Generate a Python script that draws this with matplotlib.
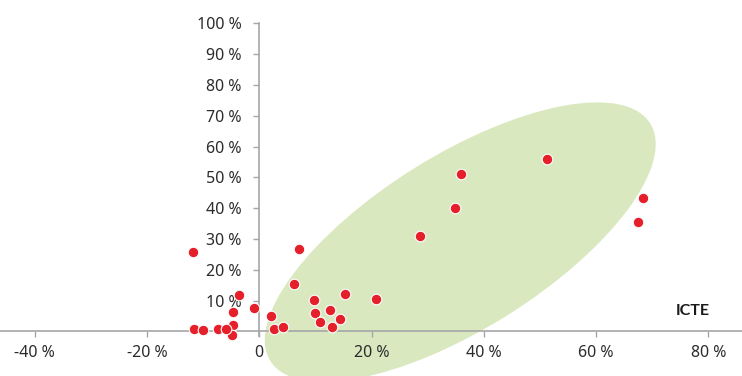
import matplotlib.pyplot as plt
import matplotlib.transforms as mtransforms
from matplotlib.patches import Ellipse

# scatter values, in percent
x_vals = [-11.9, 7.1, 6.2, -3.7, -4.6, -0.9, 2.0, -4.6, -4.9, -11.6,
          -10.1, -7.4, -5.9, 2.7, 4.2, 9.7, 15.3, 10.0, 12.6, 10.9,
          14.4, 13.0, 20.8, 51.3, 35.9, 34.9, 28.6, 68.3, 67.4]
y_vals = [25.9, 26.9, 15.3, 11.8, 6.3, 7.5, 5.0, 2.0, -1.0, 0.8,
          0.5, 0.7, 0.7, 0.7, 1.5, 10.2, 12.2, 6.0, 7.0, 3.1,
          4.1, 1.5, 10.5, 55.9, 51.0, 40.0, 31.0, 43.2, 35.4]

x_ticks = [-40, -20, 0, 20, 40, 60, 80]
y_ticks = [10, 20, 30, 40, 50, 60, 70, 80, 90, 100]
x_title = "ICTE"

grey = '#a6a6a6'
text_col = '#2b2b2b'
font = 'Noto Sans'

fig = plt.figure(figsize=(7.42, 3.76), dpi=100)
ax = fig.add_axes([0, 0, 1, 1])
ax.set_xlim(-46.2, 86.0)
ax.set_ylim(-14.45, 107.6)

# green highlight zone (sized in screen pixels, centred in data units)
zone = Ellipse((0, 0), width=2 * 224, height=2 * 87, angle=32,
               facecolor='#d9e8bf', edgecolor='none', zorder=0,
               transform=mtransforms.Affine2D() +
               mtransforms.ScaledTranslation(35.8, 29.0, ax.transData))
ax.add_patch(zone)

ax.scatter(x_vals, y_vals, s=58, color='#e5202a', edgecolors='white',
           linewidths=0.8, zorder=5)

for s in ['top', 'right']:
    ax.spines[s].set_visible(False)
ax.spines['left'].set_position(('data', 0))
ax.spines['bottom'].set_position(('data', 0))
ax.spines['left'].set_bounds(-1.5, 100)
for s in ['left', 'bottom']:
    ax.spines[s].set_color(grey)
    ax.spines[s].set_linewidth(1.2)

ax.set_xticks(x_ticks)
ax.set_xticklabels(['0' if v == 0 else f'{v} %' for v in x_ticks])
ax.set_yticks(y_ticks)
ax.set_yticklabels([f'{v} %' for v in y_ticks])
ax.tick_params(axis='both', colors=grey, length=4, width=1.0,
               labelcolor=text_col, labelsize=11.5)
ax.tick_params(axis='x', pad=6)
ax.tick_params(axis='y', pad=9)
for lab in ax.get_xticklabels() + ax.get_yticklabels():
    lab.set_fontfamily(font)

ax.text(0.934, 1 - 311 / 376, x_title, transform=ax.transAxes,
        fontsize=11.5, fontweight='bold', color='#1a1a1a',
        family=['Lato', 'DejaVu Sans'], ha='center', va='center')

fig.savefig('out.png', dpi=100)
